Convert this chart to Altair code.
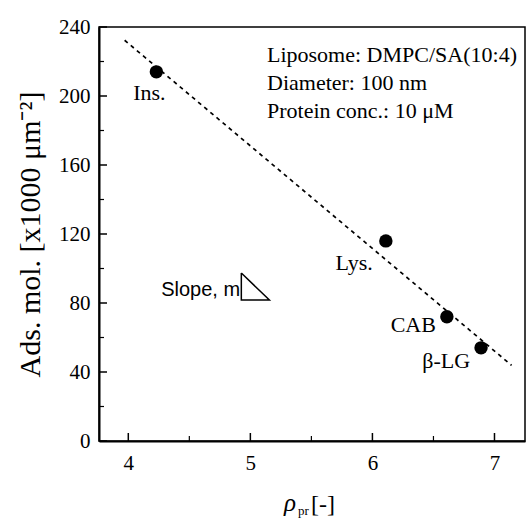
import altair as alt
import pandas as pd

# Adsorbed protein amount vs. rho_pr for four proteins
proteins = ["Ins.", "Lys.", "CAB", "β-LG"]
rho_pr = [4.23, 6.11, 6.61, 6.89]
ads_mol = [214, 116, 72, 54]

x_ticks = [4, 5, 6, 7]
x_minor = [4.5, 5.5, 6.5]
y_ticks = [0, 40, 80, 120, 160, 200, 240]
y_minor = [20, 60, 100, 140, 180, 220]

info_lines = ["Liposome: DMPC/SA(10:4)", "Diameter: 100 nm", "Protein conc.: 10 μM"]

# slope glyph (right triangle) in data units
tri_x = [4.926, 4.926, 5.156, 4.926]
tri_y = [97.4, 81.7, 81.7, 97.4]

pts = pd.DataFrame({"protein": proteins, "x": rho_pr, "y": ads_mol})
tri = pd.DataFrame({"x": tri_x, "y": tri_y, "i": list(range(len(tri_x)))})

W, H = 426, 414
SERIF = "Liberation Serif"
SANS = "Liberation Sans"

xs = alt.Scale(domain=[3.76, 7.25], nice=False, zero=False)
ys = alt.Scale(domain=[0, 240], nice=False, zero=False)

X = alt.X("x:Q", scale=xs, axis=alt.Axis(
    values=x_ticks, format="d", title=None, tickSize=0, labelPadding=11,
    labelFont=SERIF, labelFontSize=21, labelColor="black",
    domainColor="black", domainWidth=2, grid=False))
Y = alt.Y("y:Q", scale=ys, axis=alt.Axis(
    values=y_ticks, format="d", title="Ads. mol. [x1000 μm⁻²]", tickSize=0,
    labelPadding=9, labelFont=SERIF, labelFontSize=21, labelColor="black",
    titleFont=SERIF, titleFontSize=30, titleFontWeight="normal", titleColor="black",
    titleX=-54, titleY=H / 2, titleBaseline="bottom",
    domainColor="black", domainWidth=2, grid=False))

base = alt.Chart(pts)

points = base.mark_circle(size=180, color="black", opacity=1).encode(x=X, y=Y)

fit = base.transform_regression("x", "y", extent=[3.97, 7.14]).mark_line(
    color="black", strokeDash=[4, 4], strokeWidth=1.7
).encode(x=alt.X("x:Q", scale=xs), y=alt.Y("y:Q", scale=ys))

label_style = [
    ("Ins.", "center", -7, 28),
    ("Lys.", "right", -13, 29),
    ("CAB", "right", -11, 15),
    ("β-LG", "right", -11, 20),
]
labels = [
    base.transform_filter(alt.datum.protein == name).mark_text(
        font=SERIF, fontSize=22, align=al, baseline="alphabetic", dx=dx, dy=dy, color="black"
    ).encode(x=alt.X("x:Q", scale=xs), y=alt.Y("y:Q", scale=ys), text="protein:N")
    for name, al, dx, dy in label_style
]

# inward tick marks
ymaj = alt.Chart(pd.DataFrame({"y": y_ticks})).mark_rule(color="black", strokeWidth=1.5).encode(
    y=alt.Y("y:Q", scale=ys), x=alt.value(0), x2=alt.value(8))
ymin = alt.Chart(pd.DataFrame({"y": y_minor})).mark_rule(color="black", strokeWidth=1.2).encode(
    y=alt.Y("y:Q", scale=ys), x=alt.value(0), x2=alt.value(5))
xmaj = alt.Chart(pd.DataFrame({"x": x_ticks})).mark_rule(color="black", strokeWidth=1.5).encode(
    x=alt.X("x:Q", scale=xs), y=alt.value(H), y2=alt.value(H - 8))
xmin = alt.Chart(pd.DataFrame({"x": x_minor})).mark_rule(color="black", strokeWidth=1.2).encode(
    x=alt.X("x:Q", scale=xs), y=alt.value(H), y2=alt.value(H - 5))

info = alt.Chart(pd.DataFrame({"t": [info_lines]})).mark_text(
    font=SERIF, fontSize=22, align="left", baseline="alphabetic", lineHeight=28, color="black"
).encode(x=alt.value(168), y=alt.value(35), text="t")

slope_txt = alt.Chart(pd.DataFrame({"x": [4.916], "y": [84.1], "t": ["Slope, m"]})).mark_text(
    font=SANS, fontSize=20, align="right", baseline="alphabetic", color="black"
).encode(x=alt.X("x:Q", scale=xs), y=alt.Y("y:Q", scale=ys), text="t")

triangle = alt.Chart(tri).mark_line(color="black", strokeWidth=1.5).encode(
    x=alt.X("x:Q", scale=xs), y=alt.Y("y:Q", scale=ys), order="i:Q")

# x-axis title: italic rho with subscript "pr", then "[-]"
xt_rho = alt.Chart(pd.DataFrame({"t": ["ρ"]})).mark_text(
    font=SERIF, fontSize=25, fontStyle="italic", align="left", baseline="alphabetic", color="black"
).encode(x=alt.value(185), y=alt.value(484), text="t")
xt_sub = alt.Chart(pd.DataFrame({"t": ["pr"]})).mark_text(
    font=SERIF, fontSize=13, align="left", baseline="alphabetic", color="black"
).encode(x=alt.value(199), y=alt.value(488), text="t")
xt_br = alt.Chart(pd.DataFrame({"t": ["[-]"]})).mark_text(
    font=SERIF, fontSize=24, align="left", baseline="alphabetic", color="black"
).encode(x=alt.value(212), y=alt.value(485), text="t")

chart = alt.layer(
    fit, points, *labels, ymaj, ymin, xmaj, xmin, info, slope_txt, triangle,
    xt_rho, xt_sub, xt_br
).properties(
    width=W, height=H,
    autosize=alt.AutoSizeParams(type="none"),
    padding={"left": 99, "top": 27, "right": 3, "bottom": 82},
    background="white",
).configure_view(stroke="black", strokeWidth=1.5)

chart.save("out.html", embed_options={"renderer": "svg", "actions": False})
